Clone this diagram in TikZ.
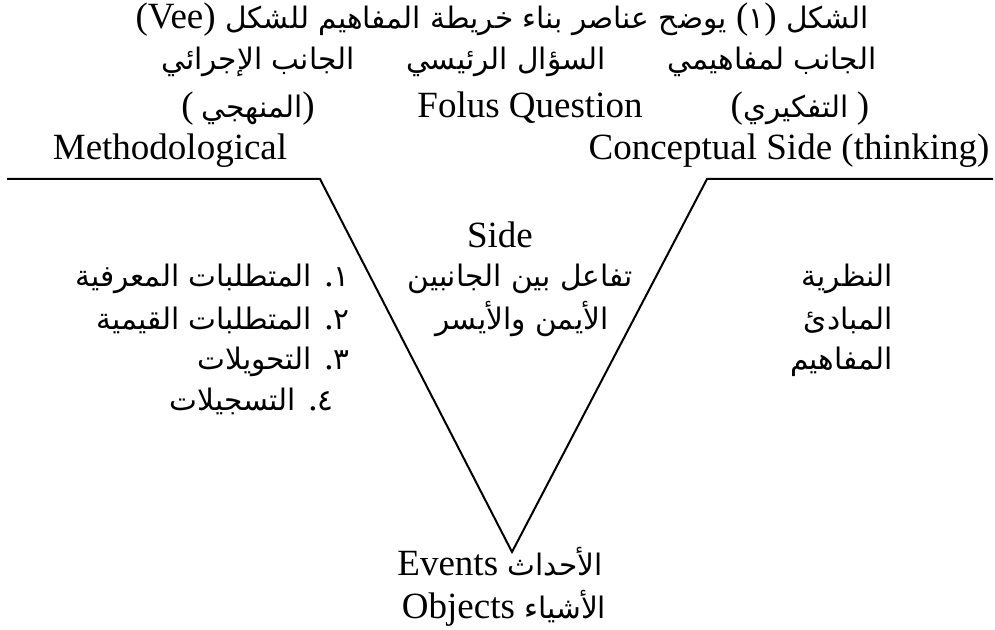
\documentclass[tikz,border=0pt]{standalone}
\usepackage{fontspec}
\setmainfont{Liberation Serif}
\newfontfamily\arabicfont[Script=Arabic]{DejaVu Sans}
\TeXXeTstate=1
\newcommand\latf{\rmfamily\fontsize{18.5pt}{22pt}\selectfont}
\newcommand\arf{\arabicfont\fontsize{14.8pt}{19pt}\selectfont}
\tikzset{
  txt/.style={inner sep=0pt, font=\arf, anchor=base},
  ltxt/.style={inner sep=0pt, font=\latf, anchor=base},
  rtxt/.style={inner sep=0pt, font=\arf, anchor=base east},
  vline/.style={line width=1pt, line join=miter}
}
\begin{document}
\begin{tikzpicture}[x=0.5pt,y=-0.5pt]
\useasboundingbox (0,0) rectangle (995,630);
% title and headings
\node[txt] (title) at (502,29) {\beginR الشكل \beginL{\latf(}١{\latf)}\endL{} يوضح عناصر بناء خريطة المفاهيم للشكل \beginL{\latf(Vee)}\endL\endR};
\node[txt] (methA) at (258,70) {\beginR الجانب الإجرائي\endR};
\node[txt] (focA) at (506,70) {\beginR السؤال الرئيسي\endR};
\node[txt] (concA) at (772,70) {\beginR الجانب لمفاهيمي\endR};
\node[txt] (methB) at (248,118) {{\latf(}\hspace{4pt}المنهجي{\latf)}};
\node[ltxt] (focB) at (530,118) {Folus Question};
\node[txt] (concB) at (800,118) {{\latf(}التفكيري\hspace{4pt}{\latf)}};
\node[ltxt] (methC) at (170,160) {Methodological};
\node[ltxt] (concC) at (789,160) {Conceptual Side (thinking)};
% the Vee
\coordinate (L0) at (7,179);
\coordinate (L1) at (320,179);
\coordinate (V) at (512,552);
\coordinate (R1) at (707,179);
\coordinate (R0) at (993,179);
\draw[vline] (L0) -- (L1) -- (V) -- (R1) -- (R0);
% middle
\node[ltxt] (side) at (500,248) {Side};
\node[txt] (midA) at (520,287) {\beginR تفاعل بين الجانبين\endR};
\node[txt] (midB) at (522,330) {\beginR الأيمن والأيسر\endR};
% left list
\node[rtxt] (li1) at (350,287) {\beginR ١{\latf.} المتطلبات المعرفية\endR};
\node[rtxt] (li2) at (350,330) {\beginR ٢{\latf.} المتطلبات القيمية\endR};
\node[rtxt] (li3) at (350,370) {\beginR ٣{\latf.} التحويلات\endR};
\node[rtxt] (li4) at (334,410) {\beginR ٤{\latf.} التسجيلات\endR};
% right list
\node[rtxt] (ri1) at (893,287) {النظرية};
\node[rtxt] (ri2) at (893,330) {المبادئ};
\node[rtxt] (ri3) at (893,370) {المفاهيم};
% bottom
\node[txt] (ev) at (500,575) {\beginR الأحداث \beginL{\latf Events}\endL\endR};
\node[txt] (ob) at (504,618) {\beginR الأشياء \beginL{\latf Objects}\endL\endR};
\end{tikzpicture}
\end{document}
